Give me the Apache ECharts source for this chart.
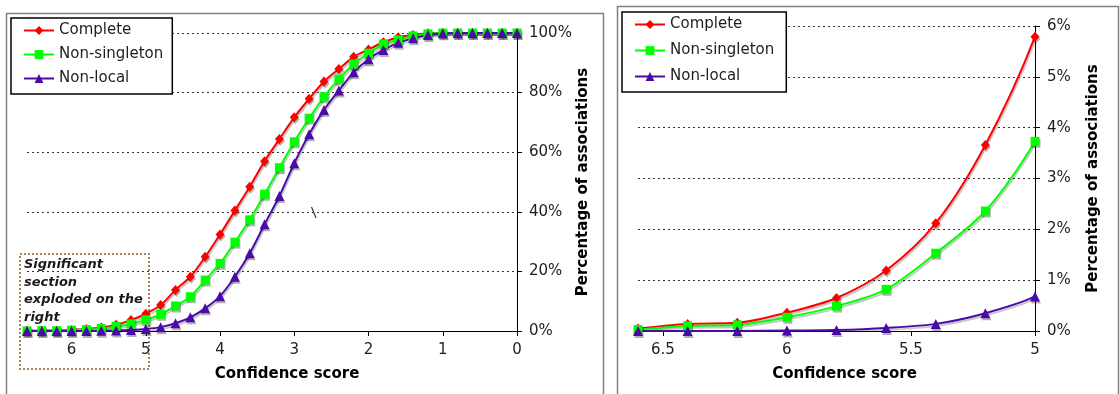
<!DOCTYPE html>
<html>
<head>
<meta charset="utf-8">
<script src="https://cdn.jsdelivr.net/npm/echarts@6/dist/echarts.min.js"></script>
<style>
html,body{margin:0;padding:0;background:#fff;}
#c{width:1120px;height:394px;}
</style>
</head>
<body>
<div id="c"></div>
<script>
// Confidence score (x), from 6.6 down to 0 in steps of 0.2
const scores = [6.6, 6.4, 6.2, 6.0, 5.8, 5.6, 5.4, 5.2, 5.0, 4.8, 4.6, 4.4, 4.2, 4.0, 3.8, 3.6, 3.4,
                3.2, 3.0, 2.8, 2.6, 2.4, 2.2, 2.0, 1.8, 1.6, 1.4, 1.2, 1.0, 0.8, 0.6, 0.4, 0.2, 0.0];
// Percentage of associations (%)
const complete = [0.05, 0.14, 0.16, 0.36, 0.65, 1.19, 2.12, 3.66, 5.79, 8.7, 13.8, 18.2, 24.9, 32.4, 40.4, 48.4, 57.0,
                  64.4, 71.7, 77.9, 83.7, 87.9, 92.0, 94.5, 96.9, 98.6, 99.3, 99.9, 100, 100, 100, 100, 100, 100];
const nonSingleton = [0.03, 0.10, 0.12, 0.27, 0.49, 0.82, 1.53, 2.36, 3.73, 5.6, 8.4, 11.5, 17.1, 22.7, 29.8, 37.3, 45.9,
                      54.8, 63.5, 71.4, 78.6, 84.5, 89.6, 93.2, 96.3, 97.7, 99.0, 99.7, 100, 100, 100, 100, 100, 100];
const nonLocal = [0.0, 0.0, 0.0, 0.01, 0.02, 0.06, 0.14, 0.35, 0.68, 1.3, 2.6, 4.6, 7.6, 11.7, 18.2, 26.1, 35.8,
                  45.3, 56.3, 66.0, 74.2, 80.7, 86.8, 91.2, 94.3, 96.7, 98.2, 99.3, 99.9, 100, 100, 100, 100, 100];
const seriesNames = ['Complete', 'Non-singleton', 'Non-local'];
const leftXTicks = [0, 1, 2, 3, 4, 5, 6];
const rightXTicks = [5, 5.5, 6, 6.5];
const annotationText = ['Significant', 'section', 'exploded on the', 'right'];

const FONT = 'DejaVu Sans';
const TXT = '#1e1e1e';
const colors = ['#ff0000', '#00ff00', '#4b0aa8'];
const symbols = ['diamond', 'rect', 'triangle'];
const symSizes = [[9, 10], 9, 10];
const allData = [complete, nonSingleton, nonLocal];

function pairs(vals) { return scores.map((s, i) => [s, vals[i]]); }

function makeSeries(gi) {
  return seriesNames.map((n, k) => ({
    name: n, type: 'line', xAxisIndex: gi, yAxisIndex: gi,
    data: pairs(allData[k]),
    smooth: 0.3,
    clip: true,
    symbol: symbols[k], symbolSize: symSizes[k],
    showAllSymbol: true,
    lineStyle: { color: colors[k], width: 2, shadowColor: 'rgba(0,0,0,0.22)', shadowOffsetX: 1, shadowOffsetY: 2 },
    itemStyle: { color: colors[k], shadowColor: 'rgba(0,0,0,0.3)', shadowOffsetX: 1, shadowOffsetY: 2 },
    emphasis: { disabled: true },
    animation: false
  }));
}

function xAx(gi, min, max, ticks, nameShift) {
  return {
    type: 'value', gridIndex: gi, min: min, max: max, inverse: true,
    axisLine: { lineStyle: { color: '#000', width: 1 } },
    axisTick: { show: true, length: 5, customValues: ticks, lineStyle: { color: '#000' } },
    axisLabel: { customValues: ticks, fontFamily: FONT, fontSize: 15, color: TXT, margin: 12 },
    splitLine: { show: false },
    name: 'Confidence score', nameLocation: 'middle', nameGap: 36,
    nameTextStyle: { fontFamily: FONT, fontSize: 15, fontWeight: 'bold', color: '#000', padding: [0, 0, 0, nameShift] }
  };
}
function yAx(gi, max, interval, gap) {
  return {
    type: 'value', gridIndex: gi, position: 'right', min: 0, max: max, interval: interval,
    axisLine: { show: true, lineStyle: { color: '#000', width: 1 } },
    axisTick: { show: true, length: 5, lineStyle: { color: '#000' } },
    axisLabel: { formatter: '{value}%', fontFamily: FONT, fontSize: 15, color: TXT, margin: 12 },
    splitLine: { show: true, lineStyle: { color: '#333', width: 1, type: [2, 3] } },
    name: 'Percentage of associations', nameLocation: 'middle', nameGap: gap,
    nameTextStyle: { fontFamily: FONT, fontSize: 15, fontWeight: 'bold', color: '#000' }
  };
}

const legendBase = {
  orient: 'vertical', itemWidth: 30, itemHeight: 11,
  backgroundColor: '#fff', borderColor: '#000', borderWidth: 1.5,
  textStyle: { fontFamily: FONT, fontSize: 15, color: TXT },
  selectedMode: false, data: seriesNames
};

const chart = echarts.init(document.getElementById('c'), null, { renderer: 'canvas' });
chart.setOption({
  animation: false,
  backgroundColor: '#fff',
  grid: [
    { left: 27, right: 603, top: 33, bottom: 63 },
    { left: 638, right: 85, top: 26, bottom: 63 }
  ],
  xAxis: [xAx(0, 0, 6.6, leftXTicks, 30), xAx(1, 5, 6.6, rightXTicks, 16)],
  yAxis: [yAx(0, 100, 20, 58), yAx(1, 6, 1, 51)],
  legend: [
    Object.assign({}, legendBase, { left: 11, top: 18, itemGap: 9, padding: [5, 9, 8, 12] }),
    Object.assign({}, legendBase, { left: 622, top: 12, itemGap: 11, padding: [5, 12, 8, 12] })
  ],
  series: makeSeries(0).concat(makeSeries(1)),
  graphic: [
    { type: 'rect', z: -10, shape: { x: 6.5, y: 13.5, width: 597, height: 400 },
      style: { fill: null, stroke: '#808080', lineWidth: 1.5 } },
    { type: 'rect', z: -10, shape: { x: 617.5, y: 6.5, width: 501, height: 400 },
      style: { fill: null, stroke: '#808080', lineWidth: 1.5 } },
    { type: 'rect', z: -5, shape: { x: 20, y: 254, width: 129, height: 115 },
      style: { fill: null, stroke: '#a8825a', lineWidth: 2, lineDash: [2, 2] } },
    { type: 'text', z: -4, left: 24, top: 256,
      style: { text: annotationText.join('\n'), font: 'italic bold 13px "DejaVu Sans"', lineHeight: 17.5, fill: '#1a1a1a' } },
    { type: 'line', z: 5, shape: { x1: 311.5, y1: 207, x2: 316, y2: 218 },
      style: { stroke: '#2a3550', lineWidth: 1.2 } }
  ]
});
</script>
</body>
</html>
